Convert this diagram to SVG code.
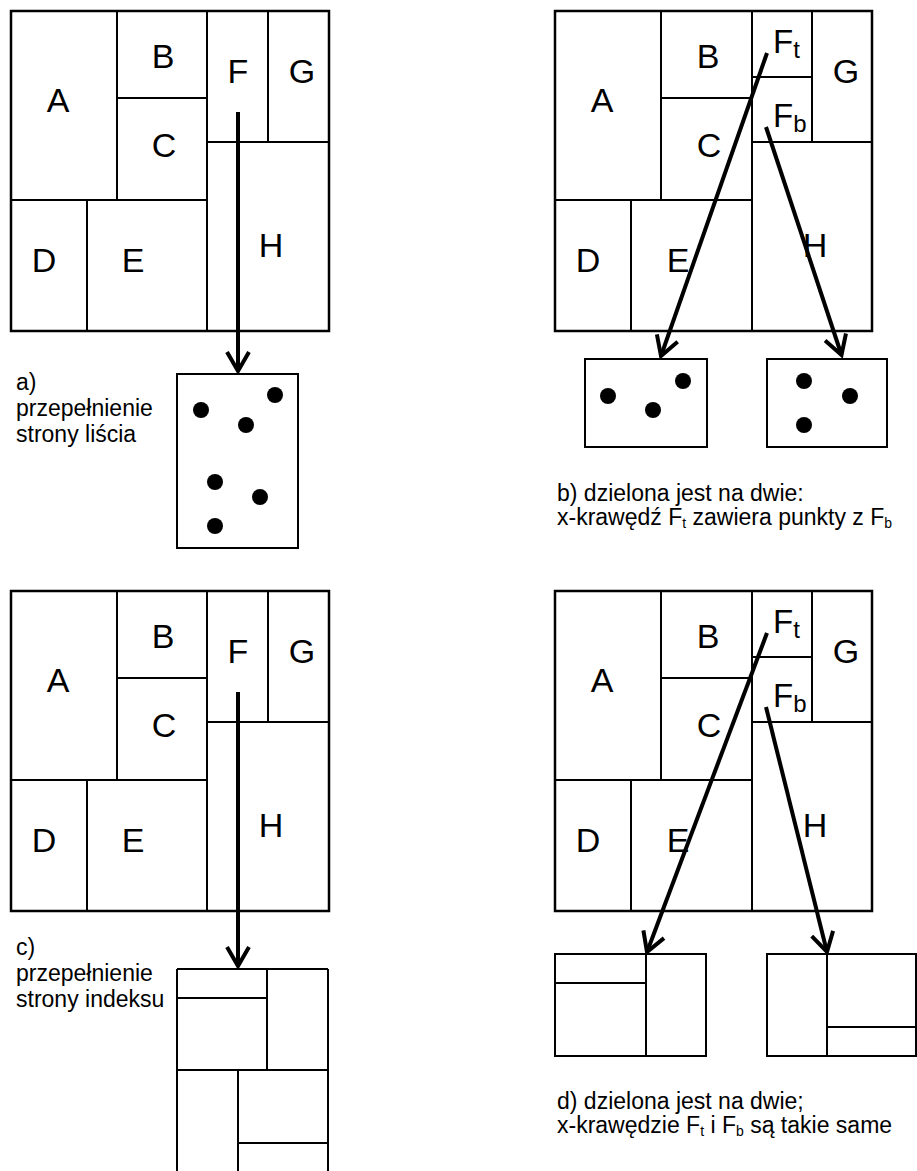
<svg xmlns="http://www.w3.org/2000/svg" width="917" height="1171" viewBox="0 0 917 1171">
  <defs>
    <style>
      .cell { fill: none; stroke: #000; stroke-width: 2; }
      .outer { fill: none; stroke: #000; stroke-width: 2.5; }
      .lbl { font-family: "Liberation Sans", Arial, sans-serif; font-size: 34px; fill: #000; text-anchor: middle; }
      .lblL { font-family: "Liberation Sans", Arial, sans-serif; font-size: 33px; fill: #000; }
      .cap { font-family: "Liberation Sans", Arial, sans-serif; font-size: 23px; fill: #000; }
      .link { fill: none; stroke: #000; stroke-width: 4; marker-end: url(#open); }
      .dot { fill: #000; }
    </style>
    <marker id="open" markerUnits="userSpaceOnUse" markerWidth="32" markerHeight="32" viewBox="-24 -16 28 32" refX="0" refY="0" orient="auto">
      <path d="M -19 -11 L 0 0 L -19 11" fill="none" stroke="#000" stroke-width="4" stroke-linejoin="miter"/>
    </marker>
    <!-- partition of the whole space into A..H -->
    <g id="grid-fgh">
      <rect class="outer" x="11" y="11" width="318" height="320"/>
      <line class="cell" x1="117" y1="11" x2="117" y2="200"/>
      <line class="cell" x1="207" y1="11" x2="207" y2="331"/>
      <line class="cell" x1="117" y1="98" x2="207" y2="98"/>
      <line class="cell" x1="11" y1="200" x2="207" y2="200"/>
      <line class="cell" x1="87" y1="200" x2="87" y2="331"/>
      <line class="cell" x1="268" y1="11" x2="268" y2="142"/>
      <line class="cell" x1="207" y1="142" x2="329" y2="142"/>
      <text class="lbl" x="58" y="112">A</text>
      <text class="lbl" x="163" y="68">B</text>
      <text class="lbl" x="164" y="157">C</text>
      <text class="lbl" x="238" y="83">F</text>
      <text class="lbl" x="302" y="83">G</text>
      <text class="lbl" x="44" y="272">D</text>
      <text class="lbl" x="133" y="272">E</text>
      <text class="lbl" x="271" y="257">H</text>
    </g>
    <!-- the same partition with F split into Ft and Fb -->
    <g id="grid-split">
      <rect class="outer" x="555" y="11" width="317" height="320"/>
      <line class="cell" x1="661" y1="11" x2="661" y2="200"/>
      <line class="cell" x1="752" y1="11" x2="752" y2="331"/>
      <line class="cell" x1="661" y1="98" x2="752" y2="98"/>
      <line class="cell" x1="555" y1="200" x2="752" y2="200"/>
      <line class="cell" x1="631" y1="200" x2="631" y2="331"/>
      <line class="cell" x1="812" y1="11" x2="812" y2="142"/>
      <line class="cell" x1="752" y1="77" x2="812" y2="77"/>
      <line class="cell" x1="752" y1="142" x2="872" y2="142"/>
      <text class="lbl" x="602" y="112">A</text>
      <text class="lbl" x="708" y="68">B</text>
      <text class="lbl" x="709" y="157">C</text>
      <text class="lblL" x="773" y="53">F<tspan font-size="24" dy="5">t</tspan></text>
      <text class="lblL" x="773" y="127">F<tspan font-size="24" dy="5">b</tspan></text>
      <text class="lbl" x="846" y="83">G</text>
      <text class="lbl" x="588" y="272">D</text>
      <text class="lbl" x="678" y="272">E</text>
      <text class="lbl" x="815" y="257">H</text>
    </g>
  </defs>

  <!-- a) leaf page overflow -->
  <g id="panel-a">
    <use href="#grid-fgh"/>
    <g id="leaf-a">
      <rect class="cell" x="177" y="374" width="121" height="174"/>
      <circle class="dot" cx="201" cy="410" r="8"/>
      <circle class="dot" cx="275" cy="395" r="8"/>
      <circle class="dot" cx="246" cy="425" r="8"/>
      <circle class="dot" cx="215" cy="482" r="8"/>
      <circle class="dot" cx="260" cy="497" r="8"/>
      <circle class="dot" cx="215" cy="526" r="8"/>
    </g>
    <text class="cap" x="16" y="390">a)</text>
    <text class="cap" x="16" y="416">przepełnienie</text>
    <text class="cap" x="16" y="442">strony liścia</text>
  </g>

  <!-- b) leaf page split in two -->
  <g id="panel-b">
    <use href="#grid-split"/>
    <g id="leaf-b-left">
      <rect class="cell" x="585" y="359" width="122" height="88"/>
      <circle class="dot" cx="608" cy="396" r="8"/>
      <circle class="dot" cx="653" cy="410" r="8"/>
      <circle class="dot" cx="683" cy="381" r="8"/>
    </g>
    <g id="leaf-b-right">
      <rect class="cell" x="767" y="359" width="120" height="88"/>
      <circle class="dot" cx="804" cy="381" r="8"/>
      <circle class="dot" cx="850" cy="396" r="8"/>
      <circle class="dot" cx="804" cy="425" r="8"/>
    </g>
    <text class="cap" x="557" y="501">b) dzielona jest na dwie:</text>
    <text class="cap" x="557" y="525">x-krawędź F<tspan font-size="14" dy="3">t</tspan><tspan dy="-3"> zawiera punkty z F</tspan><tspan font-size="14" dy="3">b</tspan></text>
  </g>

  <!-- c) index page overflow -->
  <g id="panel-c">
    <use href="#grid-fgh" transform="translate(0 580)"/>
    <g id="index-c">
      <line class="cell" x1="177" y1="969" x2="177" y2="1175"/>
      <line class="cell" x1="328" y1="969" x2="328" y2="1175"/>
      <line class="cell" x1="177" y1="969" x2="328" y2="969"/>
      <line class="cell" x1="177" y1="1070" x2="328" y2="1070"/>
      <line class="cell" x1="267" y1="969" x2="267" y2="1070"/>
      <line class="cell" x1="177" y1="998" x2="267" y2="998"/>
      <line class="cell" x1="238" y1="1070" x2="238" y2="1175"/>
      <line class="cell" x1="238" y1="1143" x2="328" y2="1143"/>
    </g>
    <text class="cap" x="16" y="955">c)</text>
    <text class="cap" x="16" y="981">przepełnienie</text>
    <text class="cap" x="16" y="1007">strony indeksu</text>
  </g>

  <!-- d) index page split in two -->
  <g id="panel-d">
    <use href="#grid-split" transform="translate(0 580)"/>
    <g id="index-d-left">
      <rect class="cell" x="555" y="954" width="151" height="102"/>
      <line class="cell" x1="646" y1="954" x2="646" y2="1056"/>
      <line class="cell" x1="555" y1="983" x2="646" y2="983"/>
    </g>
    <g id="index-d-right">
      <rect class="cell" x="767" y="954" width="149" height="102"/>
      <line class="cell" x1="827" y1="954" x2="827" y2="1056"/>
      <line class="cell" x1="827" y1="1027" x2="916" y2="1027"/>
    </g>
    <text class="cap" x="557" y="1109">d) dzielona jest na dwie;</text>
    <text class="cap" x="557" y="1133">x-krawędzie F<tspan font-size="14" dy="3">t</tspan><tspan dy="-3"> i F</tspan><tspan font-size="14" dy="3">b</tspan><tspan dy="-3"> są takie same</tspan></text>
  </g>

  <!-- connectors -->
  <g id="connectors">
    <line class="link" x1="238" y1="112" x2="238" y2="371"/>
    <line class="link" x1="767" y1="53" x2="661" y2="356"/>
    <line class="link" x1="766" y1="127" x2="841.5" y2="355"/>
    <line class="link" x1="238" y1="692" x2="238" y2="966"/>
    <line class="link" x1="767" y1="633" x2="647" y2="952"/>
    <line class="link" x1="766" y1="707" x2="827" y2="952"/>
  </g>
</svg>
